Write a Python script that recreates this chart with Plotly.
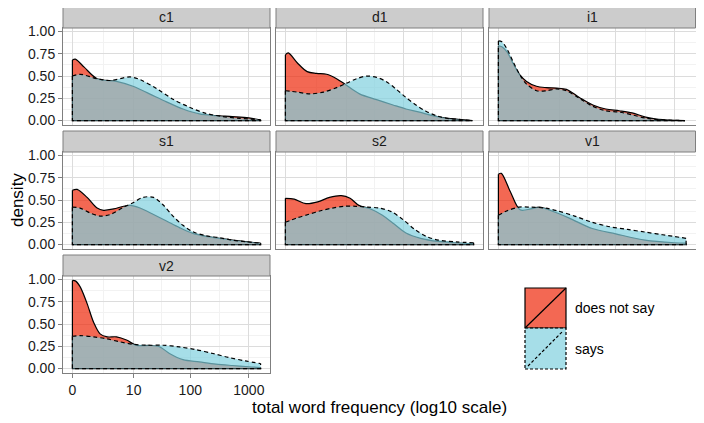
import numpy as np
import plotly.graph_objects as go

# ---------------- data (x in log10(freq+1) units, y = density) ----------------
panel_names = ["c1", "d1", "i1", "s1", "s2", "v1", "v2"]
group_names = ["does not say", "says"]

c1_not_x = [0, 0.05, 0.2, 0.42, 0.75, 1.03, 1.31, 1.6, 1.88, 2.16, 2.44, 2.72, 3.0, 3.2]
c1_not_y = [0.68, 0.69, 0.60, 0.47, 0.44, 0.385, 0.30, 0.21, 0.13, 0.075, 0.056, 0.045, 0.03, 0.005]
c1_say_x = [0, 0.13, 0.42, 0.64, 0.98, 1.15, 1.43, 1.71, 1.99, 2.27, 2.56, 2.84, 3.2]
c1_say_y = [0.50, 0.52, 0.47, 0.45, 0.49, 0.46, 0.36, 0.24, 0.15, 0.08, 0.045, 0.025, 0.01]

d1_not_x = [0, 0.05, 0.2, 0.37, 0.53, 0.70, 0.87, 1.01, 1.26, 1.55, 1.83, 2.05, 2.28, 2.5, 2.73, 3.0, 3.18]
d1_not_y = [0.74, 0.76, 0.65, 0.55, 0.53, 0.52, 0.47, 0.41, 0.30, 0.235, 0.175, 0.13, 0.094, 0.056, 0.027, 0.01, 0.0]
d1_say_x = [0, 0.2, 0.42, 0.65, 0.87, 1.04, 1.21, 1.38, 1.55, 1.71, 1.88, 2.05, 2.22, 2.39, 2.56, 2.73, 3.0, 3.18]
d1_say_y = [0.335, 0.32, 0.30, 0.32, 0.37, 0.42, 0.47, 0.50, 0.485, 0.44, 0.355, 0.26, 0.175, 0.105, 0.056, 0.027, 0.01, 0.0]

i1_not_x = [0, 0.06, 0.15, 0.26, 0.37, 0.48, 0.65, 0.82, 0.99, 1.16, 1.38, 1.61, 1.83, 2.06, 2.28, 2.51, 2.73, 3.18]
i1_not_y = [0.84, 0.83, 0.77, 0.63, 0.51, 0.44, 0.385, 0.37, 0.365, 0.35, 0.26, 0.175, 0.13, 0.11, 0.086, 0.038, 0.013, 0.0]
i1_say_x = [0, 0.06, 0.15, 0.26, 0.37, 0.48, 0.65, 0.82, 0.99, 1.16, 1.38, 1.61, 1.83, 2.06, 2.28, 2.51, 2.73, 3.18]
i1_say_y = [0.895, 0.885, 0.80, 0.65, 0.51, 0.41, 0.335, 0.335, 0.355, 0.335, 0.25, 0.16, 0.11, 0.095, 0.064, 0.027, 0.01, 0.0]

s1_not_x = [0, 0.08, 0.25, 0.42, 0.53, 0.70, 0.87, 0.98, 1.15, 1.38, 1.6, 1.82, 2.05, 2.27, 2.5, 2.72, 2.94, 3.2]
s1_not_y = [0.61, 0.62, 0.53, 0.41, 0.385, 0.40, 0.43, 0.44, 0.41, 0.337, 0.264, 0.19, 0.125, 0.092, 0.07, 0.05, 0.033, 0.015]
s1_say_x = [0, 0.13, 0.30, 0.48, 0.64, 0.87, 1.03, 1.2, 1.38, 1.54, 1.71, 1.88, 2.05, 2.27, 2.5, 2.72, 2.94, 3.2]
s1_say_y = [0.42, 0.41, 0.355, 0.32, 0.337, 0.42, 0.47, 0.53, 0.53, 0.447, 0.32, 0.216, 0.143, 0.099, 0.077, 0.05, 0.033, 0.015]

s2_not_x = [0, 0.15, 0.35, 0.55, 0.75, 0.95, 1.1, 1.25, 1.45, 1.65, 1.85, 2.05, 2.3, 2.6, 2.9, 3.2]
s2_not_y = [0.52, 0.51, 0.46, 0.48, 0.53, 0.55, 0.52, 0.44, 0.40, 0.33, 0.23, 0.13, 0.07, 0.035, 0.02, 0.01]
s2_say_x = [0, 0.2, 0.4, 0.6, 0.8, 1.0, 1.2, 1.4, 1.6, 1.8, 2.0, 2.2, 2.4, 2.6, 2.9, 3.2]
s2_say_y = [0.25, 0.30, 0.34, 0.38, 0.41, 0.43, 0.43, 0.42, 0.41, 0.37, 0.28, 0.17, 0.09, 0.05, 0.03, 0.02]

v1_not_x = [0, 0.05, 0.2, 0.37, 0.55, 0.7, 0.9, 1.2, 1.6, 2.0, 2.5, 3.0, 3.2]
v1_not_y = [0.79, 0.80, 0.60, 0.39, 0.40, 0.42, 0.38, 0.30, 0.18, 0.12, 0.05, 0.02, 0.015]
v1_say_x = [0, 0.15, 0.35, 0.55, 0.8, 1.0, 1.3, 1.6, 1.9, 2.2, 2.5, 2.8, 3.2]
v1_say_y = [0.33, 0.38, 0.42, 0.42, 0.41, 0.38, 0.32, 0.25, 0.20, 0.17, 0.14, 0.11, 0.07]

v2_not_x = [0, 0.05, 0.13, 0.25, 0.36, 0.47, 0.59, 0.75, 0.92, 1.09, 1.31, 1.48, 1.65, 1.88, 2.16, 2.44, 2.72, 3.0, 3.2]
v2_not_y = [0.99, 0.985, 0.92, 0.73, 0.52, 0.39, 0.356, 0.356, 0.32, 0.26, 0.26, 0.245, 0.17, 0.10, 0.075, 0.05, 0.034, 0.02, 0.012]
v2_say_x = [0, 0.13, 0.36, 0.59, 0.81, 1.03, 1.26, 1.54, 1.82, 2.1, 2.39, 2.66, 2.94, 3.2]
v2_say_y = [0.363, 0.37, 0.356, 0.333, 0.30, 0.273, 0.262, 0.262, 0.243, 0.213, 0.169, 0.124, 0.086, 0.056]

not_x = [c1_not_x, d1_not_x, i1_not_x, s1_not_x, s2_not_x, v1_not_x, v2_not_x]
not_y = [c1_not_y, d1_not_y, i1_not_y, s1_not_y, s2_not_y, v1_not_y, v2_not_y]
say_x = [c1_say_x, d1_say_x, i1_say_x, s1_say_x, s2_say_x, v1_say_x, v2_say_x]
say_y = [c1_say_y, d1_say_y, i1_say_y, s1_say_y, s2_say_y, v1_say_y, v2_say_y]

x_tick_values = [0, 10, 100, 1000]
y_tick_values = [0, 0.25, 0.5, 0.75, 1.0]

# ---------------- style / layout ----------------
# the page body has an 8px margin, so the figure is laid out in page pixels minus 8
OFF = 8
W, H = 704, 423
FONT = "Liberation Sans, Arial, sans-serif"
RED_FILL = "rgba(238,40,10,0.7)"
BLUE_FILL = "rgba(128,208,222,0.7)"
BORDER = "#7F7F7F"
GRID = "#DCDCDC"
MINOR = "#F2F2F2"

cols = [(63, 270), (276, 483), (489, 695.5)]
rows = [(28, 125), (152, 249), (276, 373)]
strips = [(7, 28), (131, 152), (255, 276)]

def fx(p):
    return (p - OFF) / W

def fy(p):
    return 1 - (p - OFF) / H

xt = [float(np.log10(v + 1)) for v in x_tick_values]
x_minor = [(xt[i] + xt[i + 1]) / 2 for i in range(len(xt) - 1)]
y_minor = [(y_tick_values[i] + y_tick_values[i + 1]) / 2 for i in range(len(y_tick_values) - 1)]

fig = go.Figure()
shapes = []
annotations = []
layout_axes = {}

for i, name in enumerate(panel_names):
    r, c = divmod(i, 3)
    k = "" if i == 0 else str(i + 1)
    xa, ya = "x" + k, "y" + k

    for gx, gy, fillc, dash in [(not_x[i], not_y[i], RED_FILL, "solid"),
                                (say_x[i], say_y[i], BLUE_FILL, "4px,3px")]:
        fig.add_trace(go.Scatter(
            x=gx, y=gy, xaxis=xa, yaxis=ya, mode="lines",
            line=dict(color="black", width=1.2, dash=dash, shape="spline", smoothing=0.9),
            fill="tozeroy", fillcolor=fillc, showlegend=False, hoverinfo="skip"))
        fig.add_trace(go.Scatter(
            x=[gx[0], gx[0], gx[-1], gx[-1]], y=[gy[0], 0, 0, gy[-1]],
            xaxis=xa, yaxis=ya, mode="lines",
            line=dict(color="black", width=1.2, dash=dash),
            showlegend=False, hoverinfo="skip"))

    x0, x1 = cols[c]
    y0, y1 = rows[r]
    show_x = (i == 6)
    show_y = (c == 0)
    layout_axes["xaxis" + k] = dict(
        domain=[fx(x0), fx(x1)], anchor=ya, range=[-0.16, 3.36], automargin=False,
        tickvals=xt, ticktext=[str(v) for v in x_tick_values],
        showticklabels=show_x, ticks="outside" if show_x else "",
        ticklen=4, tickcolor=BORDER, tickwidth=1,
        showgrid=True, gridcolor=GRID, gridwidth=1, zeroline=False,
        minor=dict(tickvals=x_minor, showgrid=True, gridcolor=MINOR, ticks=""),
        showline=True, mirror=True, linecolor=BORDER, linewidth=1,
        tickfont=dict(size=14, color="#1a1a1a", family=FONT))
    layout_axes["yaxis" + k] = dict(
        domain=[fy(y1), fy(y0)], anchor=xa, range=[-0.05, 1.04], automargin=False,
        tickvals=y_tick_values, ticktext=["%.2f" % v for v in y_tick_values],
        showticklabels=show_y, ticks="outside" if show_y else "",
        ticklen=4, tickcolor=BORDER, tickwidth=1,
        showgrid=True, gridcolor=GRID, gridwidth=1, zeroline=False,
        minor=dict(tickvals=y_minor, showgrid=True, gridcolor=MINOR, ticks=""),
        showline=True, mirror=True, linecolor=BORDER, linewidth=1,
        tickfont=dict(size=14, color="#1a1a1a", family=FONT))

    s0, s1 = strips[r]
    shapes.append(dict(type="rect", xref="paper", yref="paper",
                       x0=fx(x0), x1=fx(x1), y0=fy(s1), y1=fy(s0),
                       fillcolor="#CCCCCC", line=dict(color=BORDER, width=1)))
    annotations.append(dict(text=name, xref="paper", yref="paper",
                            x=fx((x0 + x1) / 2), y=fy((s0 + s1) / 2),
                            showarrow=False, xanchor="center", yanchor="middle",
                            font=dict(size=14, color="#1a1a1a", family=FONT)))

# axis titles
annotations.append(dict(text="density", xref="paper", yref="paper", x=fx(17), y=fy(200),
                        textangle=-90, showarrow=False, xanchor="center", yanchor="middle",
                        font=dict(size=17, color="black", family=FONT)))
annotations.append(dict(text="total word frequency (log10 scale)", xref="paper", yref="paper",
                        x=fx(379), y=fy(407), showarrow=False, xanchor="center", yanchor="middle",
                        font=dict(size=17, color="black", family=FONT)))

# legend (keys drawn manually)
kx0, kx1 = 525, 566
keys = [(288, 328, RED_FILL, "solid", group_names[0]), (328, 369, BLUE_FILL, "dash", group_names[1])]
for ky0, ky1, fc, dash, label in keys:
    shapes.append(dict(type="rect", xref="paper", yref="paper",
                       x0=fx(kx0), x1=fx(kx1), y0=fy(ky1), y1=fy(ky0),
                       fillcolor=fc, line=dict(color="black", width=1.2,
                                               dash="solid" if dash == "solid" else "3px,2px")))
    inset = 0 if dash == "solid" else 3
    shapes.append(dict(type="line", xref="paper", yref="paper",
                       x0=fx(kx0 + inset), y0=fy(ky1 - inset), x1=fx(kx1 - inset), y1=fy(ky0 + inset),
                       line=dict(color="black", width=1.2,
                                 dash="solid" if dash == "solid" else "3px,2px")))
    annotations.append(dict(text=label, xref="paper", yref="paper",
                            x=fx(573), y=fy((ky0 + ky1) / 2), showarrow=False,
                            xanchor="left", yanchor="middle",
                            font=dict(size=14, color="black", family=FONT)))

fig.update_layout(
    width=W, height=H, margin=dict(l=0, r=0, t=0, b=0),
    paper_bgcolor="white", plot_bgcolor="white",
    font=dict(family=FONT), showlegend=False,
    shapes=shapes, annotations=annotations, **layout_axes)

fig.write_html("out.html")
